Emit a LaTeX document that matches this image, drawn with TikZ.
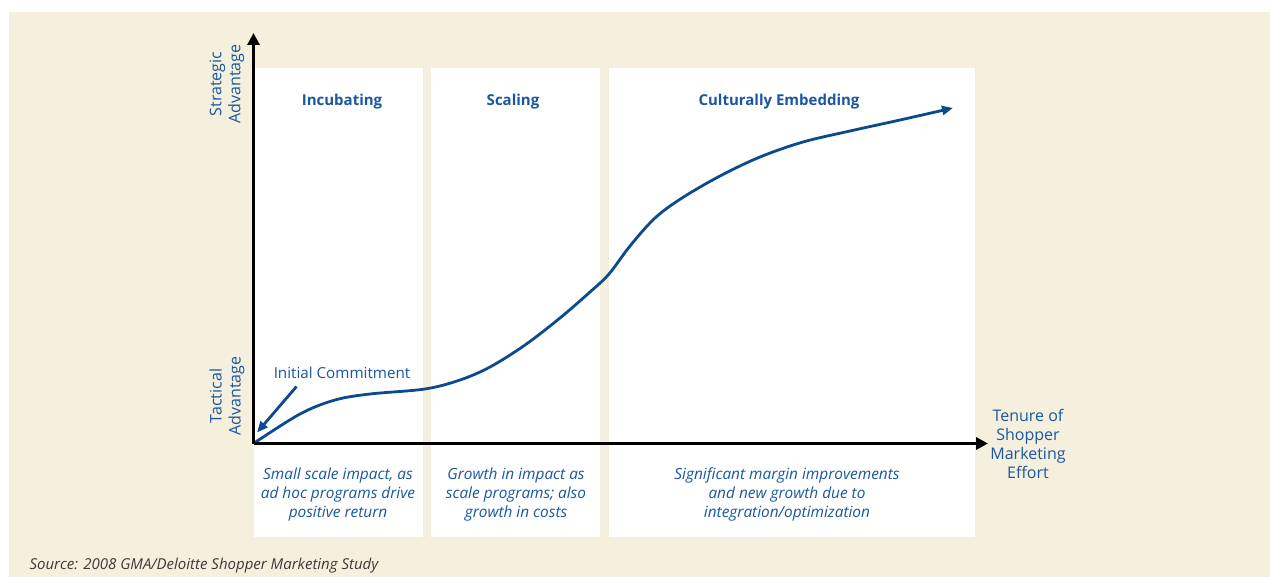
\documentclass[tikz,border=0pt]{standalone}
\usepackage{fontspec}
\setmainfont{Open Sans}
\usetikzlibrary{arrows.meta}
\definecolor{cream}{HTML}{F5EFDD}
\definecolor{curveblue}{HTML}{0B4A8F}
\definecolor{textblue}{HTML}{1A57A0}
\definecolor{sourcegray}{HTML}{3A3A3A}

\begin{document}
\begin{tikzpicture}[x=1pt,y=-1pt,
    every node/.style={text=textblue,font=\fontsize{16}{19}\selectfont,align=center},
    axis/.style={line width=3.5pt,-{Triangle[length=12pt,width=12pt]}},
    curve/.style={curveblue,line width=2.8pt},
    stage/.style={font=\fontsize{15}{19}\selectfont\bfseries},
    note/.style={font=\fontsize{15.4}{19}\selectfont\itshape}]

  \useasboundingbox (0,0) rectangle (1270,577);
  \fill[white] (0,0) rectangle (1270,577);
  \fill[cream] (9,12) rectangle (1270,577);

  % white panels
  \fill[white] (254,68) rectangle (423,537);
  \fill[white] (431,68) rectangle (600,537);
  \fill[white] (609,68) rectangle (975,537);

  \coordinate (origin) at (253.5,443.5);
  \coordinate (ytop)   at (253.5,33);
  \coordinate (xend)   at (988,443.5);

  % growth curve
  \draw[curve,-{Triangle[length=11pt,width=9pt]}] plot[smooth,tension=0.55] coordinates {
    (origin) (300,414) (335,400) (370,394) (425,389) (460,380) (490,367)
    (525,345) (560,318) (590,292) (609,274) (630,246) (655,218) (682,198)
    (720,176) (760,157) (803,142) (850,131) (900,120) (953,108)};

  \draw[axis] (origin) -- (ytop);
  \draw[axis] (origin) -- (xend);

  \node[stage] (incubating) at (342,101.5) {Incubating};
  \node[stage] (scaling)    at (513,101.5) {Scaling};
  \node[stage] (embedding)  at (779,101.5) {Culturally Embedding};

  \node[rotate=90] (strategic) at (227,84)  {Strategic\\Advantage};
  \node[rotate=90] (tactical)  at (227,396) {Tactical\\Advantage};
  \node (tenure) at (1028,444) {Tenure of\\Shopper\\Marketing\\Effort};

  \node[font=\fontsize{15.2}{19}\selectfont] (commit) at (342,373) {Initial Commitment};
  \coordinate (committail) at (296.5,386.5);
  \coordinate (committip)  at (257,432.5);
  \draw[curve,-{Triangle[length=11pt,width=9pt]}] (committail) -- (committip);

  \node[note] (smallscale) at (338,494.5) {Small scale impact, as\\ad hoc programs drive\\positive return};
  \node[note] (growth)     at (516,494.5) {Growth in impact as\\scale programs; also\\growth in costs};
  \node[note] (margin)     at (787,494.5) {Significant margin improvements\\and new growth due to\\integration/optimization};

  \node[text=sourcegray,font=\fontsize{15}{18}\selectfont\itshape,anchor=west] (source) at (26,566)
    {Source: 2008 GMA/Deloitte Shopper Marketing Study};

\end{tikzpicture}
\end{document}
